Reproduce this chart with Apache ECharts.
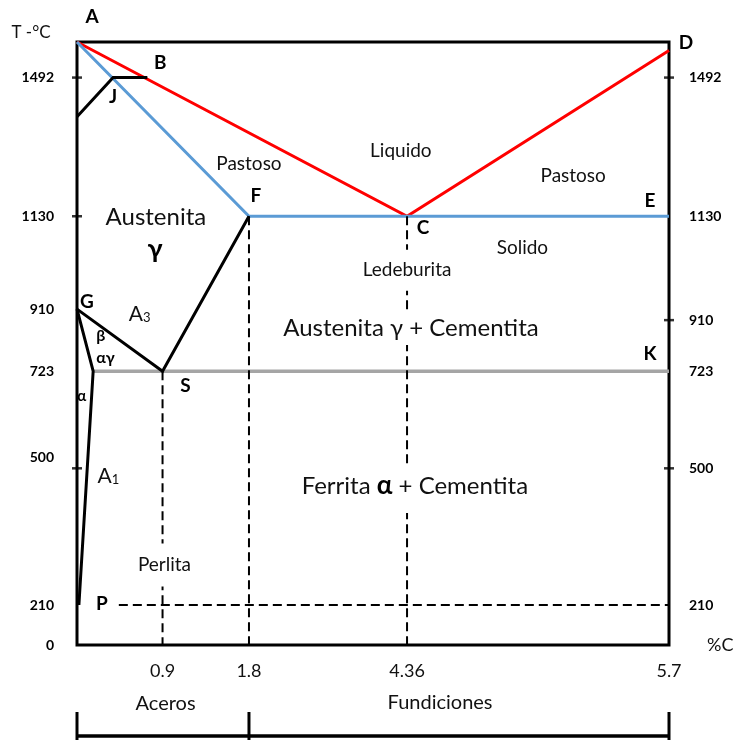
<!DOCTYPE html>
<html>
<head>
<meta charset="utf-8">
<script src="https://cdn.jsdelivr.net/npm/echarts@6/dist/echarts.min.js"></script>
<style>
  html, body { margin: 0; padding: 0; background: #fff; }
  #chart { width: 734px; height: 740px; }
</style>
</head>
<body>
<div id="chart"></div>
<script>
// ---- Fe–C diagram values: carbon content (%C) and temperature (°C) ----
const T_TICKS_LEFT  = [0, 210, 500, 723, 910, 1130, 1492];
const T_TICKS_RIGHT = [210, 500, 723, 910, 1130, 1492];
const T_MARKS_LEFT  = [1492, 1130, 500];
const T_MARKS_RIGHT = [1492, 910, 500];
const C_TICKS = [0.9, 1.8, 4.36, 5.7];

const LIQUIDUS   = [[0, 1538], [4.36, 1130], [5.7, 1527]];   // A - C - D
const SOLIDUS    = [[0, 1538], [1.8, 1130], [5.7, 1130]];    // A - F - E
const PERITECTIC = [[0, 1390], [0.38, 1492], [0.74, 1492]];  // N - J - B
const GSF        = [[0, 910], [0.9, 723], [1.8, 1130]];      // G - S - F
const GP         = [[0, 910], [0.17, 723], [0.02, 210]];     // G - P
const EUTECTOID  = [[0.17, 723], [5.7, 723]];                // ... - K
const DROP_LINES = [[0.9, 723], [1.8, 1130], [4.36, 1130]];  // dashed verticals down to 0 °C
const P_LINE     = [[0.44, 210], [5.7, 210]];

const POINTS = {
  A: [0, 1538], B: [0.74, 1492], J: [0.38, 1492], F: [1.8, 1130],
  C: [4.36, 1130], D: [5.7, 1527], E: [5.7, 1130], G: [0, 910],
  S: [0.9, 723], K: [5.7, 723], P: [0, 210]
};

// ---- schematic (piecewise-linear) scales: share of the axis length, in % ----
const C_KNOTS = [0, 0.9, 1.8, 4.36, 5.7];
const C_STOPS = [0, 14.45, 29.05, 55.75, 100];
const T_KNOTS = [0, 210, 500, 723, 910, 1130, 1492, 1538];
const T_STOPS = [0, 6.63, 29.3, 45.4, 55.7, 71.1, 94.1, 100];

function interp(v, xs, ys) {
  for (let i = 1; i < xs.length; i++) {
    if (v <= xs[i] || i === xs.length - 1) {
      const f = (v - xs[i - 1]) / (xs[i] - xs[i - 1]);
      return ys[i - 1] + f * (ys[i] - ys[i - 1]);
    }
  }
}
const sx = c => interp(c, C_KNOTS, C_STOPS);
const sy = t => interp(t, T_KNOTS, T_STOPS);
const pt = ([c, t]) => [sx(c), sy(t)];

function tickText(v, list, scale) {
  for (const t of list) if (Math.abs(scale(t) - v) < 1e-6) return String(t);
  return '';
}

const FONT = 'Lato, "Open Sans", sans-serif';
const INK = '#111';

function path(pts, color, width, dashed) {
  return {
    type: 'line', data: pts.map(pt), symbol: 'none', silent: true, z: 2,
    lineStyle: { color, width, type: dashed ? [9, 5] : 'solid', cap: 'butt', join: 'miter' }
  };
}

const series = [
  path(LIQUIDUS, '#ff0000', 3),
  path(SOLIDUS, '#5b9bd5', 3),
  path(EUTECTOID, '#a5a5a5', 3.5),
  path(PERITECTIC, '#000', 3),
  path(GSF, '#000', 3),
  path(GP, '#000', 3),
  path(P_LINE, '#000', 2, true)
];
DROP_LINES.forEach(([c, t]) => series.push(path([[c, t], [c, 0]], '#000', 2, true)));

// crossing tick marks on both vertical axes
series.push({
  type: 'scatter', silent: true, z: 3, symbol: 'rect', symbolSize: [10, 2.5],
  itemStyle: { color: '#000' },
  data: T_MARKS_LEFT.map(t => [0, sy(t)])
    .concat(T_MARKS_RIGHT.map(t => ({ value: [100, sy(t)], symbolOffset: t === 910 ? [0, 11] : [0, 0] })))
});

const chart = echarts.init(document.getElementById('chart'), null, { renderer: 'canvas' });
const yLabelBase = { fontFamily: FONT, fontSize: 14, fontWeight: 'bold', color: '#000' };

chart.setOption({
  animation: false,
  backgroundColor: '#fff',
  grid: { left: 77, right: 65, top: 42, bottom: 95, show: true, borderColor: '#000', borderWidth: 3,
    outerBoundsMode: 'none', containLabel: false },
  xAxis: {
    type: 'value', min: 0, max: 100,
    axisLine: { show: false }, axisTick: { show: false }, splitLine: { show: false },
    axisLabel: { customValues: C_TICKS.map(sx), formatter: v => tickText(v, C_TICKS, sx),
      margin: 17, fontFamily: FONT, fontSize: 18, color: INK },
    name: '%C', nameLocation: 'end', nameGap: 38,
    nameTextStyle: { fontFamily: FONT, fontSize: 18, color: INK, padding: [50, 0, 0, 0] }
  },
  yAxis: [
    {
      type: 'value', min: 0, max: 100, position: 'left',
      axisLine: { show: false }, axisTick: { show: false }, splitLine: { show: false },
      axisLabel: Object.assign({ customValues: T_TICKS_LEFT.map(sy), margin: 23,
        formatter: v => { const s = tickText(v, T_TICKS_LEFT, sy); return s === '500' ? '{up|500}' : s; },
        rich: { up: Object.assign({ padding: [0, 0, 22, 0] }, yLabelBase) } }, yLabelBase),
      name: 'T -°C', nameLocation: 'end', nameGap: 1,
      nameTextStyle: { fontFamily: FONT, fontSize: 17, color: INK, align: 'center', padding: [0, 92, 0, 0] }
    },
    {
      type: 'value', min: 0, max: 100, position: 'right',
      axisLine: { show: false }, axisTick: { show: false }, splitLine: { show: false },
      axisLabel: Object.assign({ customValues: T_TICKS_RIGHT.map(sy), margin: 20,
        formatter: v => { const s = tickText(v, T_TICKS_RIGHT, sy); return s === '910' ? '{dn|910}' : s; },
        rich: { dn: Object.assign({ padding: [22, 0, 0, 0] }, yLabelBase) } }, yLabelBase)
    }
  ],
  series: series
});

// ---- annotations, anchored in diagram units ----
const toPx = p => chart.convertToPixel({ gridIndex: 0 }, pt(p));

function text(x, y, str, style) {
  return { type: 'text', z: 50, x, y, style: Object.assign({ text: str, fontFamily: FONT, fontSize: 19, fill: INK,
    align: 'center', verticalAlign: 'middle' }, style || {}) };
}

const LETTER_OFFSETS = {
  A: [15, -25], B: [13, -15], J: [0, 19], F: [7, -20], C: [16, 12], D: [17, -8],
  E: [-19, -15], G: [10, -7], S: [23, 15], K: [-19, -17], P: [25, -1]
};
const letters = Object.keys(POINTS).map(k => {
  const [x, y] = toPx(POINTS[k]);
  const [dx, dy] = LETTER_OFFSETS[k];
  return text(x + dx, y + dy, k, { fontWeight: 'bold', fontSize: 19, fill: '#000' });
});

function note(str, c, t, style) {
  const [x, y] = toPx([c, t]);
  return text(x, y, str, style);
}
const sub = { fontFamily: FONT, fontSize: 13, fill: INK, padding: [7, 0, 0, 0] };
const notes = [
  note('Liquido', 4.26, 1300),
  note('Pastoso', 1.8, 1268),
  note('Pastoso', 5.21, 1235),
  note('Austenita', 0.83, 1128, { fontSize: 24 }),
  note('γ', 0.82, 1052, { fontSize: 27, fontWeight: 'bold', fill: '#000' }),
  note('Solido', 4.95, 1054),
  note('Ledeburita', 4.36, 1002, { backgroundColor: '#fff', padding: [14, 3, 8, 3] }),
  note('Austenita γ + Cementita', 4.38, 853, { fontSize: 24, backgroundColor: '#fff', padding: [5, 3, 5, 3] }),
  note('Ferrita {b|α} + Cementita', 4.40, 454, { fontSize: 24, backgroundColor: '#fff', padding: [6, 3, 14, 3],
    rich: { b: { fontFamily: FONT, fontSize: 26, fontWeight: 'bold', fill: '#000' } } }),
  note('Perlita', 0.92, 295, { backgroundColor: '#fff', padding: [12, 3, 12, 3] }),
  note('A{s|3}', 0.66, 895, { fontSize: 21, rich: { s: sub } }),
  note('A{s|1}', 0.33, 484, { fontSize: 21, rich: { s: sub } }),
  note('β', 0.25, 829, { fontSize: 16, fontWeight: 'bold', fill: '#000' }),
  note('αγ', 0.30, 762, { fontSize: 16, fontWeight: 'bold', fill: '#000' }),
  note('α', 0.05, 666, { fontSize: 15, fontWeight: 'bold', fill: '#000' })
];

// steel / cast-iron bracket under the composition axis
const px = c => chart.convertToPixel({ xAxisIndex: 0 }, sx(c));
const bx = [0, 1.8, 5.7].map(px);
const BAR_Y = 736;
const bracket = [
  { type: 'line', shape: { x1: bx[0], y1: BAR_Y, x2: bx[2], y2: BAR_Y }, style: { stroke: '#000', lineWidth: 3.5 } },
  ...bx.map(x => ({ type: 'line', shape: { x1: x, y1: 712, x2: x, y2: 740 }, style: { stroke: '#000', lineWidth: 3 } })),
  text(px(0.9) + 3, 704, 'Aceros', { fontSize: 20 }),
  text(px(4.36) + 33, 703, 'Fundiciones', { fontSize: 20 })
];

chart.setOption({ graphic: letters.concat(notes, bracket) });
</script>
</body>
</html>
